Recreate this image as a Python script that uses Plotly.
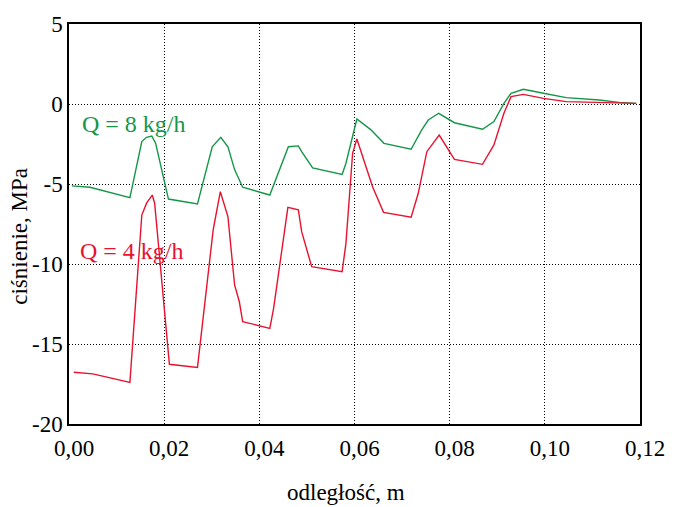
import plotly.graph_objects as go

# distance [m] and pressure [MPa]
x_q8 = [0.0006, 0.0044, 0.0128, 0.0153, 0.0163, 0.0174, 0.0182, 0.0209, 0.0270, 0.0301,
        0.0319, 0.0334, 0.0348, 0.0365, 0.0422, 0.0461, 0.0482, 0.0489, 0.0512, 0.0574,
        0.0582, 0.0605, 0.0634, 0.0662, 0.0719, 0.0741, 0.0755, 0.0777, 0.0810, 0.0869,
        0.0893, 0.0914, 0.0929, 0.0955, 0.0997, 0.1045, 0.1114, 0.1156, 0.1192]
p_q8 = [-5.12, -5.20, -5.85, -2.35, -2.08, -2.00, -2.45, -5.94, -6.25, -2.67,
        -2.08, -2.67, -4.10, -5.20, -5.69, -2.67, -2.62, -2.98, -4.00, -4.40,
        -3.70, -0.94, -1.60, -2.46, -2.83, -1.63, -1.00, -0.58, -1.17, -1.58,
        -1.10, 0.04, 0.67, 0.92, 0.67, 0.40, 0.25, 0.10, 0.04]

x_q4 = [0.0010, 0.0050, 0.0128, 0.0153, 0.0163, 0.0175, 0.0180, 0.0211, 0.0270, 0.0303,
        0.0318, 0.0334, 0.0348, 0.0358, 0.0365, 0.0422, 0.0430, 0.0451, 0.0460, 0.0482,
        0.0489, 0.0510, 0.0574, 0.0582, 0.0596, 0.0605, 0.0638, 0.0661, 0.0719, 0.0734,
        0.0752, 0.0778, 0.0795, 0.0810, 0.0869, 0.0893, 0.0914, 0.0929, 0.0955, 0.0997,
        0.1045, 0.1114, 0.1192]
p_q4 = [-16.77, -16.87, -17.40, -6.94, -6.20, -5.69, -6.20, -16.27, -16.46, -7.87,
        -5.48, -7.04, -11.31, -12.36, -13.60, -14.02, -12.77, -8.19, -6.46, -6.62,
        -7.98, -10.17, -10.48, -8.71, -3.08, -2.19, -5.17, -6.77, -7.08, -5.58,
        -2.98, -1.94, -2.71, -3.46, -3.77, -2.56, -0.58, 0.46, 0.60, 0.35,
        0.15, 0.08, 0.04]

x_ticks = [0.00, 0.02, 0.04, 0.06, 0.08, 0.10, 0.12]
x_ticktext = ["0,00", "0,02", "0,04", "0,06", "0,08", "0,10", "0,12"]
y_ticks = [5, 0, -5, -10, -15, -20]
y_ticktext = ["5", "0", "-5", "-10", "-15", "-20"]

GREEN = "rgb(22,150,72)"
RED = "rgb(232,18,48)"
FONT = "Liberation Serif, Times New Roman, serif"

fig = go.Figure()
fig.add_trace(go.Scatter(x=x_q8, y=p_q8, mode="lines", line=dict(color=GREEN, width=1.4),
                         name="Q = 8 kg/h"))
fig.add_trace(go.Scatter(x=x_q4, y=p_q4, mode="lines", line=dict(color=RED, width=1.4),
                         name="Q = 4 kg/h"))

axis_common = dict(showline=True, mirror=True, linecolor="black", linewidth=1.5,
                   showgrid=True, gridcolor="black", gridwidth=1, griddash="1px,2px",
                   zeroline=False, ticks="", tickfont=dict(family=FONT, size=23, color="black"))

fig.update_xaxes(range=[0, 0.12], tickvals=x_ticks, ticktext=x_ticktext,
                 ticklabelshift=5, ticklabelstandoff=3, **axis_common)
fig.update_yaxes(range=[-20, 5], tickvals=y_ticks, ticktext=y_ticktext, **axis_common)

fig.add_annotation(text="Q = 8 kg/h", x=0.0136, y=-1.25, xref="x", yref="y", showarrow=False,
                   font=dict(family=FONT, size=24, color=GREEN))
fig.add_annotation(text="Q = 4 kg/h", x=0.0133, y=-9.2, xref="x", yref="y", showarrow=False,
                   font=dict(family=FONT, size=24, color=RED))
fig.add_annotation(text="ciśnienie, MPa", x=-0.088, y=0.47, xref="paper", yref="paper",
                   showarrow=False, textangle=-90, xanchor="center", yanchor="middle",
                   font=dict(family=FONT, size=23, color="black"))
fig.add_annotation(text="odległość, m", x=0.485, y=-0.17, xref="paper", yref="paper",
                   showarrow=False, xanchor="center", yanchor="middle",
                   font=dict(family=FONT, size=23, color="black"))

fig.update_layout(width=677, height=507, margin=dict(l=69, r=29, t=24, b=83),
                  plot_bgcolor="white", paper_bgcolor="white", showlegend=False,
                  font=dict(family=FONT, color="black"))

fig.write_html("out.html")
